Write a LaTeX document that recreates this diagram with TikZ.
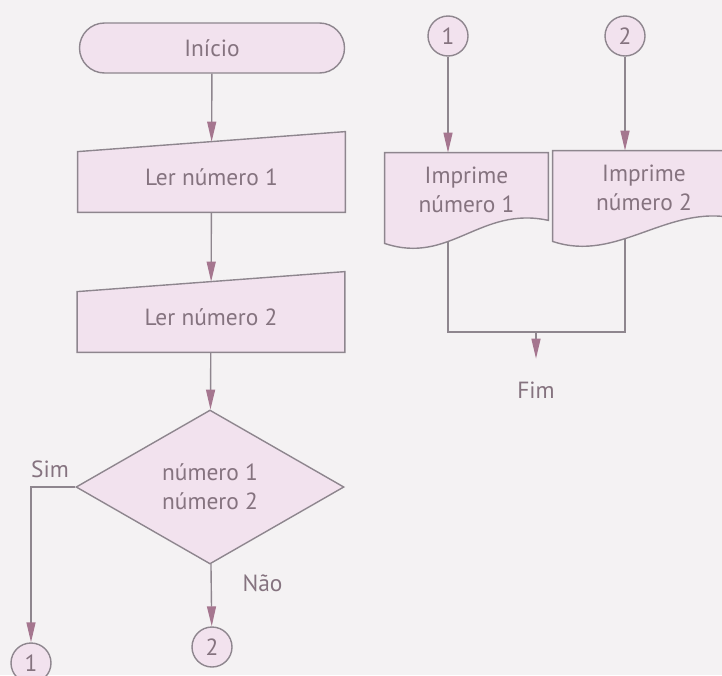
\documentclass[tikz,border=0pt]{standalone}
\usepackage{fontspec}
\setmainfont{PT Sans}
\usetikzlibrary{arrows.meta,shapes.geometric,calc}

\definecolor{bgpaper}{HTML}{F4F2F3}
\definecolor{boxfill}{HTML}{F2E2EE}
\definecolor{boxline}{HTML}{8E868E}
\definecolor{txtgray}{HTML}{85737F}
\definecolor{tipmauve}{HTML}{A5768F}

\pgfdeclarelayer{paper}
\pgfdeclarelayer{wires}
\pgfdeclarelayer{shapes}
\pgfsetlayers{paper,wires,shapes,main}

\tikzset{
  base/.style={fill=boxfill, draw=boxline, line width=0.7pt, text=txtgray},
  terminal/.style={base, rounded corners=12.5pt, minimum width=132.5pt, minimum height=25pt},
  inbox/.style={minimum width=133.5pt, minimum height=35pt, text=txtgray, inner sep=0pt},
  docbox/.style={minimum width=#1, minimum height=37pt, text=txtgray, align=center, inner sep=0pt},
  decision/.style={base, diamond, minimum width=134pt, minimum height=77pt, inner sep=0pt, align=center},
  conn/.style={base, circle, minimum size=20pt, inner sep=0pt},
  lbl/.style={text=txtgray},
  flow/.style={draw=boxline, line width=0.7pt},
  arr/.style={flow, -{Triangle[length=10pt,width=4.5pt,color=tipmauve]}}
}

% manual input: slanted top edge
\newcommand{\slanttop}[1]{%
  \filldraw[base] (#1.south west) -- (#1.south east) -- ([yshift=5pt]#1.north east)
    -- ([yshift=-5pt]#1.north west) -- cycle;}
% document: wavy bottom edge
\newcommand{\wavydoc}[1]{%
  \filldraw[base] (#1.north west) -- (#1.north east) -- ([yshift=3.5pt]#1.south east)
    .. controls ([xshift=-34pt,yshift=11pt]#1.south east) and ([xshift=32.5pt,yshift=-19pt]#1.south west)
    .. ([yshift=-8pt]#1.south west) -- cycle;}

\begin{document}
\begin{tikzpicture}[x=0.5pt, y=-0.5pt, font=\fontsize{11.7}{14.5}\selectfont]
  \useasboundingbox (0,0) rectangle (722,675);
  \begin{pgfonlayer}{paper}
    \fill[bgpaper] (0,0) rectangle (722,675);
  \end{pgfonlayer}

  % left column
  \node[terminal] (inicio) at (212,48) {Início};
  \node[inbox] (ler1) at (211.5,177) {Ler número 1};
  \node[inbox] (ler2) at (211,317) {Ler número 2};
  \node[decision] (dec) at (210,487) {número 1\\número 2};
  \node[conn] (c1a) at (31,663) {1};
  \node[conn] (c2a) at (212,647) {2};
  \node[lbl] (sim) at (50,469) {Sim};

  % right column
  \node[conn] (c1b) at (448,36) {1};
  \node[conn] (c2b) at (625,36) {2};
  \node[docbox=81.5pt] (doc1) at (466.5,190) {Imprime\\número 1};
  \node[docbox=91pt] (doc2) at (644,188) {Imprime\\número 2};
  \coordinate (jn) at (536,332);
  \node[lbl] (fim) at (536,390) {Fim};

  \begin{pgfonlayer}{shapes}
    \slanttop{ler1}
    \slanttop{ler2}
    \wavydoc{doc1}
    \wavydoc{doc2}
  \end{pgfonlayer}

  \draw[arr] (inicio) -- (ler1);
  \draw[arr] (ler1) -- (ler2);
  \draw[arr] (ler2) -- (dec);
  \draw[arr] (dec.west) -| (c1a);
  \draw[arr] (dec) -- node[lbl, right=12pt, pos=0.3] (nao) {Não} (c2a);

  \draw[arr] (c1b) -- (c1b |- doc1.north);
  \draw[arr] (c2b) -- (c2b |- doc2.north);
  \begin{pgfonlayer}{wires}
    \draw[flow] (doc1.center -| c1b) |- (jn) -| (doc2.center -| c2b);
  \end{pgfonlayer}
  \draw[arr, shorten >=8pt] (jn) -- (fim);
\end{tikzpicture}
\end{document}
